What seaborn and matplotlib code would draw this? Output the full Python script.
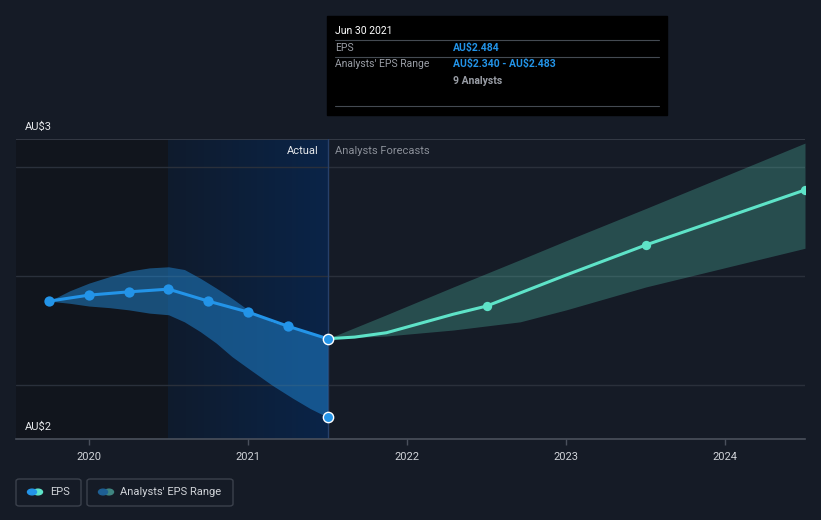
import numpy as np
import pandas as pd
import matplotlib
matplotlib.use("Agg")
import matplotlib.pyplot as plt
import seaborn as sns
from matplotlib.patches import FancyBboxPatch, Rectangle, Circle
from matplotlib.lines import Line2D

# --- data ---
actual_x = [2019.75, 2020.0, 2020.25, 2020.5, 2020.75, 2021.0, 2021.25, 2021.5]
actual_eps = [2.553, 2.564, 2.570, 2.575, 2.553, 2.533, 2.507, 2.484]

# past analyst range (edge of the shaded band)
range_x = [2019.75, 2019.88, 2020.0, 2020.13, 2020.25, 2020.38, 2020.5, 2020.6,
           2020.7, 2020.8, 2020.9, 2021.0, 2021.15, 2021.28, 2021.39, 2021.5]
range_high = [2.553, 2.572, 2.586, 2.598, 2.608, 2.614, 2.616, 2.611,
              2.595, 2.577, 2.558, 2.537, 2.515, 2.503, 2.494, 2.484]
range_low = [2.553, 2.549, 2.544, 2.541, 2.537, 2.531, 2.528, 2.515,
             2.497, 2.476, 2.451, 2.430, 2.399, 2.375, 2.356, 2.340]

forecast_line_x = [2021.5, 2021.67, 2021.87, 2022.08, 2022.29, 2022.5, 2023.0, 2023.5, 2024.5]
forecast_line_eps = [2.484, 2.487, 2.495, 2.512, 2.529, 2.544, 2.601, 2.656, 2.757]
forecast_pt_x = [2022.5, 2023.5, 2024.5]
forecast_pt_eps = [2.544, 2.656, 2.757]

band_x = [2021.5, 2021.87, 2022.29, 2022.71, 2023.0, 2023.5, 2024.5]
band_high = [2.484, 2.528, 2.579, 2.629, 2.664, 2.723, 2.843]
band_low = [2.484, 2.489, 2.500, 2.515, 2.537, 2.579, 2.650]

year_ticks = [2020, 2021, 2022, 2023, 2024]

# --- colours ---
BG = "#151b26"
DARK = "#11151d"
BLUE = "#2394e8"
TEAL = "#5ee3c8"
GRID = "#2a303b"

W, H = 821, 520
sns.set_style("dark")
plt.rcParams["font.family"] = ["Roboto", "DejaVu Sans"]

fig = plt.figure(figsize=(W / 100, H / 100), dpi=100, facecolor=BG)


def fx(px):
    return px / W


def fy(py):
    return 1 - py / H


ax = fig.add_axes([fx(16), fy(439), (805 - 16) / W, 300 / H])
ax.set_facecolor(BG)
x0, x1 = 2019.542, 2024.5
y0, y1 = 2.30, 2.8505
ax.set_xlim(x0, x1)
ax.set_ylim(y0, y1)

# shaded past regions
ax.axvspan(x0, 2020.5, color=DARK, zorder=0, lw=0)
grad = np.linspace(0, 1, 256)
c_left = np.array([15, 27, 45]) / 255
c_right = np.array([10, 36, 72]) / 255
img = c_left[None, :] + grad[:, None] * (c_right - c_left)[None, :]
ax.imshow(img[None, :, :], extent=[2020.5, 2021.5, y0, y1], aspect="auto", zorder=0.5)

# grid
for gy in [2.4, 2.6, 2.8]:
    ax.axhline(gy, color=GRID, lw=1, zorder=1)
ax.axhline(y1 - 0.0005, color="#3a404b", lw=1.2, zorder=1)
ax.axvline(2021.5, color="#27406a", lw=1, zorder=1)

# bands
ax.fill_between(range_x, range_low, range_high, color=BLUE, alpha=0.45, lw=0, zorder=2)
ax.fill_between(band_x, band_low, band_high, color=TEAL, alpha=0.25, lw=0, zorder=2)

# lines
sns.lineplot(x=forecast_line_x, y=forecast_line_eps, ax=ax, color=TEAL, lw=2.2, zorder=3)
sns.lineplot(x=actual_x, y=actual_eps, ax=ax, color=BLUE, lw=2.2, zorder=4)
sns.scatterplot(x=actual_x[:-1], y=actual_eps[:-1], ax=ax, color=BLUE, s=55, lw=0, zorder=5)
sns.scatterplot(x=forecast_pt_x, y=forecast_pt_eps, ax=ax, color=TEAL, s=45, lw=0, zorder=5)
sns.scatterplot(x=[actual_x[-1], range_x[-1]], y=[actual_eps[-1], range_low[-1]], ax=ax,
                color=BLUE, s=55, edgecolor="white", linewidth=1, zorder=6)

# axes styling
ax.grid(False)
for s in ["top", "right", "left"]:
    ax.spines[s].set_visible(False)
ax.spines["bottom"].set_color("#4a505c")
ax.spines["bottom"].set_linewidth(1.2)
ax.set_yticks([])
ax.set_xticks(year_ticks)
ax.set_xticklabels([str(t) for t in year_ticks])
ax.tick_params(axis="x", colors="#4a505c", length=4, width=1, labelcolor="#d0d3d8",
               labelsize=8, pad=5, bottom=True)
ax.set_xlabel("")
ax.set_ylabel("")

# y labels
fig.text(fx(25), fy(127), "AU$3", color="#e6e8eb", fontsize=8, va="center")
fig.text(fx(25), fy(427), "AU$2", color="#e6e8eb", fontsize=8, va="center")
fig.text(fx(319), fy(151), "Actual", color="#e6e8eb", fontsize=8, va="center", ha="right")
fig.text(fx(335), fy(151), "Analysts Forecasts", color="#8a8f98", fontsize=8, va="center")

# tooltip
fig.patches.append(Rectangle((fx(327), fy(115)), (667 - 327) / W, (115 - 16) / H,
                             transform=fig.transFigure, color="black", zorder=10))
for ly in [40, 57, 106]:
    fig.lines.append(Line2D([fx(335), fx(659)], [fy(ly), fy(ly)], transform=fig.transFigure,
                            color="#444a52", lw=0.8, zorder=11))
fig.text(fx(335), fy(31), "Jun 30 2021", color="white", fontsize=7.5, va="center", zorder=12)
fig.text(fx(335), fy(48), "EPS", color="#9a9ea6", fontsize=7.5, va="center", zorder=12)
fig.text(fx(453), fy(48), "AU$2.484", color=BLUE, fontsize=7.5, va="center",
         fontweight="bold", zorder=12)
fig.text(fx(335), fy(64), "Analysts' EPS Range", color="#9a9ea6", fontsize=7.5, va="center",
         zorder=12)
fig.text(fx(453), fy(64), "AU$2.340 - AU$2.483", color=BLUE, fontsize=7.5, va="center",
         fontweight="bold", zorder=12, parse_math=False)
fig.text(fx(453), fy(81), "9 Analysts", color="#9a9ea6", fontsize=7.5, va="center",
         fontweight="bold", zorder=12)

# legend
for (lx, rx) in [(16, 81), (87, 233)]:
    fig.patches.append(FancyBboxPatch((fx(lx), fy(506)), (rx - lx) / W, 27 / H,
                                      boxstyle="round,pad=0,rounding_size=0.004",
                                      transform=fig.transFigure, facecolor="none",
                                      edgecolor="#3b414c", lw=1))
legend_icons = [(32, BLUE, TEAL), (103, "#1e5f93", "#3f8580")]
for cx, c1, c2 in legend_icons:
    fig.patches.append(Circle((fx(cx + 6), fy(492)), 4.5 / W, transform=fig.transFigure,
                              color=c2, zorder=3))
    fig.patches.append(Circle((fx(cx), fy(492)), 4.5 / W, transform=fig.transFigure,
                              color=c1, zorder=4))
fig.text(fx(50), fy(492), "EPS", color="#d0d3d8", fontsize=8, va="center")
fig.text(fx(120), fy(492), "Analysts' EPS Range", color="#d0d3d8", fontsize=8, va="center")

fig.savefig("out.png", dpi=100, facecolor=BG)
